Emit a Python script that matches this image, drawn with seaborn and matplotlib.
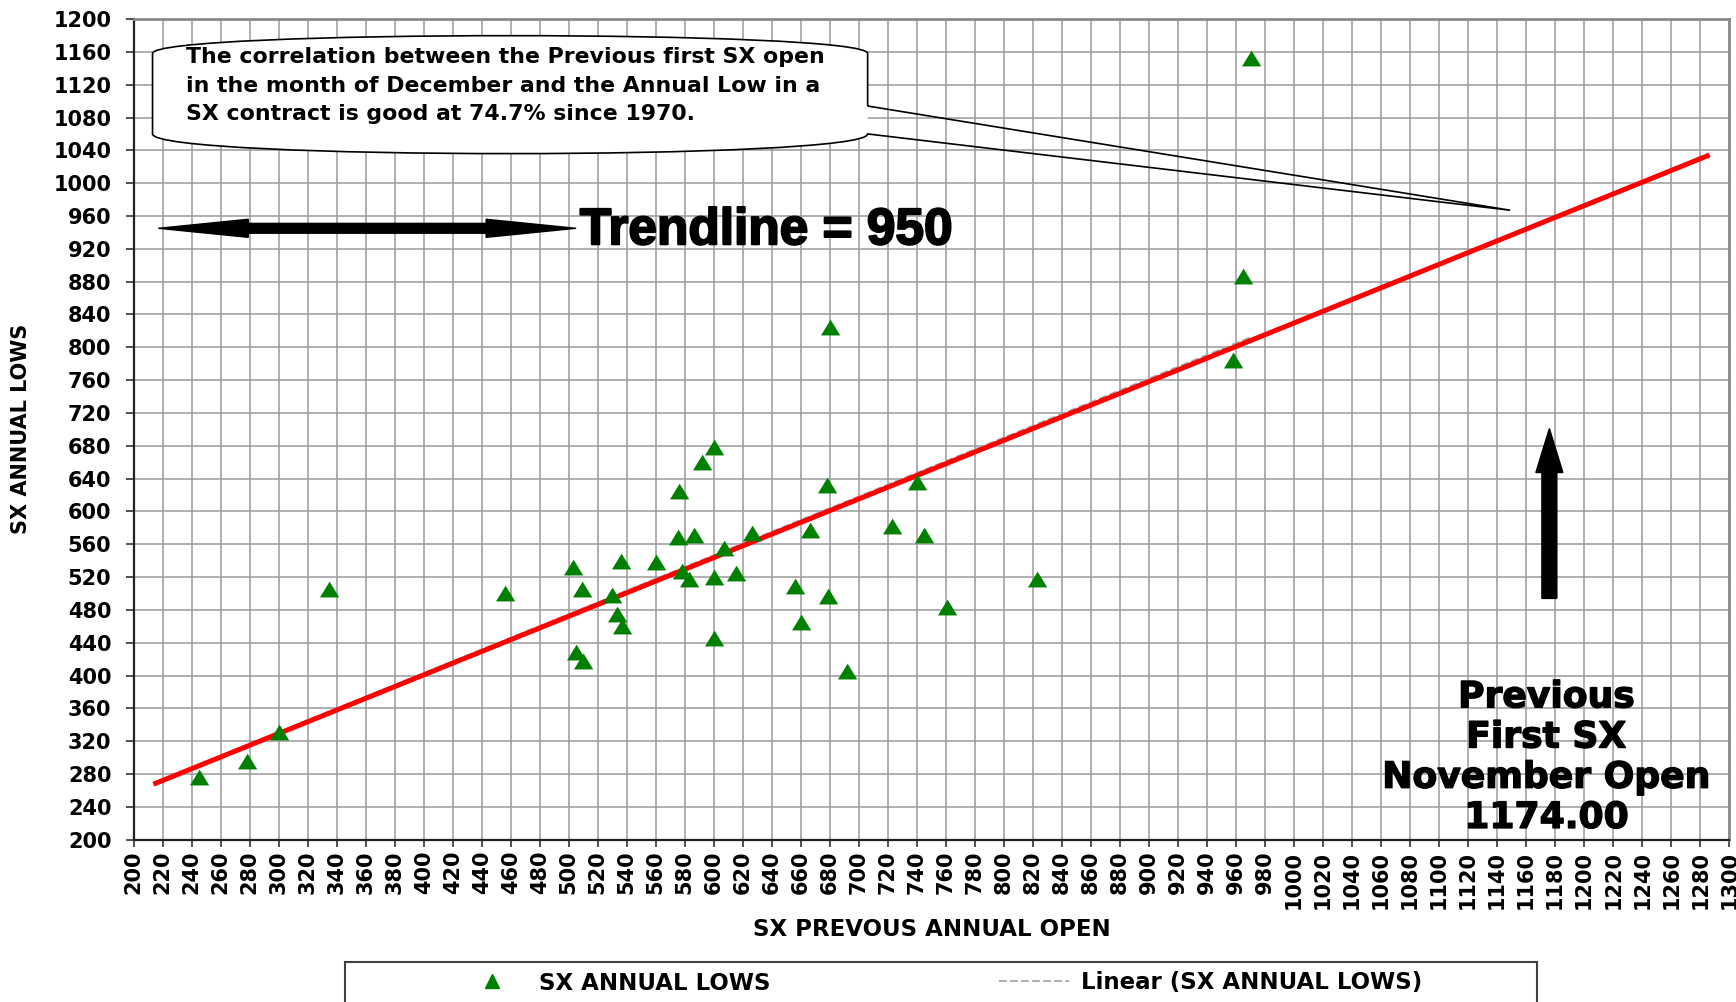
import numpy as np
import pandas as pd
import seaborn as sns
import matplotlib.pyplot as plt
import matplotlib.patheffects as pe
from matplotlib.path import Path
from matplotlib.patches import PathPatch, FancyArrow, Rectangle
from matplotlib.markers import MarkerStyle
from matplotlib.lines import Line2D

# previous first SX open (x) vs SX annual low (y)
prev_open = [245, 278, 300, 335, 456, 503, 505, 509, 510, 530,
             533, 536, 537, 560, 575, 576, 578, 583, 586, 592,
             600, 600, 600, 607, 615, 626, 656, 660, 666, 678,
             679, 680, 692, 723, 740, 745, 761, 823, 958, 965, 970]
annual_low = [276, 296, 331, 506, 500, 532, 429, 506, 418, 498,
              475, 540, 460, 538, 569, 625, 527, 518, 571, 660,
              679, 520, 446, 555, 525, 574, 509, 465, 577, 632,
              497, 825, 406, 582, 636, 571, 483, 518, 784, 887, 1153]

# the red line drawn over the chart (ends)
red_line_x = [213.6, 1286.5]
red_line_y = [267.6, 1034.4]

x_ticks = np.arange(200, 1301, 20)
y_ticks = np.arange(200, 1201, 40)

series_label = 'SX ANNUAL LOWS'
trend_label = 'Linear (SX ANNUAL LOWS)'
note = ('The correlation between the Previous first SX open\n'
        'in the month of December and the Annual Low in a\n'
        'SX contract is good at 74.7% since 1970.')
trend_text = 'Trendline = 950'
open_text = 'Previous\nFirst SX\nNovember Open\n1174.00'

df = pd.DataFrame({'prev_open': prev_open, 'annual_low': annual_low})

sns.set_style('white')
plt.rcParams['font.family'] = ['DejaVu Sans']
plt.rcParams['font.weight'] = 'bold'
plt.rcParams['text.color'] = 'black'
plt.rcParams['axes.labelcolor'] = 'black'
plt.rcParams['xtick.color'] = 'black'
plt.rcParams['ytick.color'] = 'black'

fig = plt.figure(figsize=(17.36, 10.02), dpi=100)
ax = fig.add_axes([0.0770, 0.1620, 0.9191, 0.8190])
ax.set_axisbelow(True)

# excel style linear trendline (grey dashed) and the hand drawn red one
sns.regplot(data=df, x='prev_open', y='annual_low', scatter=False, ci=None,
            line_kws=dict(color='#a8a8a8', ls='--', lw=1.5, zorder=2), ax=ax)
ax.plot(red_line_x, red_line_y, color='red', lw=3.6, zorder=3, solid_capstyle='butt')

tri = MarkerStyle([(-1, -0.82), (1, -0.82), (0, 0.82)])
sns.scatterplot(data=df, x='prev_open', y='annual_low', marker=tri, s=180,
                color='#008000', edgecolor='#008000', linewidth=0.3,
                zorder=4, legend=False, ax=ax)

ax.set_xlim(200, 1300)
ax.set_ylim(200, 1200)
ax.set_xticks(x_ticks)
ax.set_yticks(y_ticks)
ax.grid(True, color='#9a9a9a', lw=1.1)
ax.tick_params(axis='y', direction='out', length=6, width=1.2, pad=10,
               labelsize=15, left=True, color='#333333', labelcolor='black')
ax.tick_params(axis='x', direction='out', length=5, width=1.2, pad=3,
               labelsize=15, labelrotation=90, bottom=True, color='#333333',
               labelcolor='black')
for lab in ax.get_xticklabels() + ax.get_yticklabels():
    lab.set_fontweight('bold')

for side in ['left', 'bottom']:
    ax.spines[side].set_color('#222222')
    ax.spines[side].set_linewidth(1.6)
for side in ['top', 'right']:
    ax.spines[side].set_color('#8a8a8a')
    ax.spines[side].set_linewidth(2)

ax.set_xlabel('SX PREVOUS ANNUAL OPEN', fontsize=16.5, fontweight='bold', va='center')
ax.set_ylabel('SX ANNUAL LOWS', fontsize=15, fontweight='bold', va='center')
ax.xaxis.set_label_coords(0.5, -0.110)
ax.yaxis.set_label_coords(-0.0706, 0.5)

# callout box with its pointer
L, R = 213, 706
fill = Path([(L, 1158), (L, 1060), (L, 1028), (R, 1028), (R, 1060), (R, 1158),
             (R, 1187), (L, 1187), (L, 1158), (L, 1158)],
            [Path.MOVETO, Path.LINETO, Path.CURVE4, Path.CURVE4, Path.CURVE4,
             Path.LINETO, Path.CURVE4, Path.CURVE4, Path.CURVE4, Path.CLOSEPOLY])
ax.add_patch(PathPatch(fill, facecolor='white', edgecolor='none', zorder=5))
edge = Path([(R, 1094), (R, 1158), (R, 1187), (L, 1187), (L, 1158), (L, 1060),
             (L, 1028), (R, 1028), (R, 1060), (1149, 967), (R, 1094)],
            [Path.MOVETO, Path.LINETO, Path.CURVE4, Path.CURVE4, Path.CURVE4,
             Path.LINETO, Path.CURVE4, Path.CURVE4, Path.CURVE4, Path.LINETO,
             Path.LINETO])
ax.add_patch(PathPatch(edge, facecolor='none', edgecolor='black', lw=1.2, zorder=6))
ax.text(236, 1119, note, fontsize=15.8, fontweight='bold', ha='left', va='center',
        linespacing=1.55, zorder=7)

# double arrow + trendline value
ax.add_patch(FancyArrow(361, 945, -144, 0, width=12, head_width=22, head_length=62,
                        length_includes_head=True, color='black', zorder=6))
ax.add_patch(FancyArrow(361, 945, 144, 0, width=12, head_width=22, head_length=62,
                        length_includes_head=True, color='black', zorder=6))
ax.text(636, 942, trend_text, fontsize=37, fontweight='bold', ha='center', va='center',
        family='Liberation Sans', color='black', zorder=7,
        path_effects=[pe.withStroke(linewidth=1.5, foreground='black')])

# arrow pointing at the november open
ax.add_patch(FancyArrow(1176, 494, 0, 207, width=10.3, head_width=18.6, head_length=53.6,
                        length_includes_head=True, color='black', zorder=6))
ax.text(1174, 300, open_text, fontsize=26, fontweight='bold', ha='center', va='center',
        linespacing=1.23, color='black', zorder=7,
        path_effects=[pe.withStroke(linewidth=1.0, foreground='black')])

# legend along the bottom, frame runs off the page like the original
fig.add_artist(Rectangle((0.1987, -0.03), 0.6866, 0.0699, transform=fig.transFigure,
                         fill=False, ec='#404040', lw=1.5))
handles = [Line2D([], [], marker='^', color='#008000', ls='none', markersize=10),
           Line2D([], [], color='#b0b0b0', ls='--', lw=1.5)]
fig.legend(handles, [series_label, trend_label], loc='center left', ncol=2,
           bbox_to_anchor=(457 / 1736, 1 - 983 / 1002), frameon=False,
           borderaxespad=0, borderpad=0,
           prop=dict(size=16.5, weight='bold'), handlelength=3.06, handletextpad=0.52,
           columnspacing=9.98)

fig.savefig('out.png', dpi=100)
